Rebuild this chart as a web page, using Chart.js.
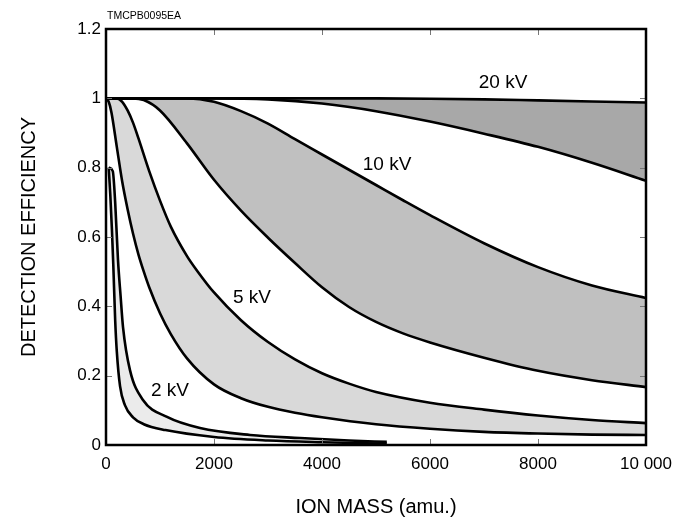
<!DOCTYPE html>
<html>
<head>
<meta charset="utf-8">
<script src="https://cdn.jsdelivr.net/npm/chart.js@4.4.1/dist/chart.umd.min.js"></script>
<style>
  body { margin: 0; background: #fff; }
  #wrap { width: 691px; height: 525px; position: relative; }
</style>
</head>
<body>
<div id="wrap"><canvas id="effChart"></canvas></div>
<script>
// ion mass (amu) / detection efficiency pairs
var kv2Low = [[50,0.8],[80,0.72],[110,0.62],[135,0.52],[170,0.36],[200,0.27],[260,0.17],[350,0.115],[500,0.08],[700,0.06],[1100,0.043],[2000,0.023],[3000,0.013],[4000,0.008],[5200,0.004]];
var kv2High = [[50,0.8],[125,0.79],[170,0.7],[222,0.534],[270,0.43],[315,0.34],[444,0.216],[685,0.13],[1130,0.081],[1741,0.049],[2667,0.029],[3593,0.02],[4500,0.013],[5200,0.009]];
var kv5Low = [[0,1],[50,0.99],[100,0.96],[200,0.86],[300,0.76],[400,0.68],[500,0.61],[600,0.55],[700,0.5],[800,0.455],[1000,0.38],[1200,0.32],[1500,0.25],[2000,0.175],[2500,0.135],[3000,0.11],[3500,0.093],[4000,0.08],[5000,0.06],[6000,0.047],[7000,0.038],[8000,0.033],[9000,0.03],[10000,0.029]];
var kv5High = [[0,1],[200,1],[300,0.99],[400,0.965],[500,0.93],[600,0.885],[800,0.79],[1000,0.705],[1200,0.63],[1500,0.545],[1700,0.5],[2000,0.44],[2500,0.36],[3000,0.297],[3500,0.247],[4000,0.207],[4500,0.177],[5000,0.153],[6000,0.122],[7000,0.102],[8000,0.085],[9000,0.072],[10000,0.063]];
var kv10Low = [[0,1],[500,1],[700,0.995],[1000,0.965],[1500,0.87],[2000,0.765],[2500,0.676],[3000,0.598],[3500,0.525],[4000,0.455],[4500,0.398],[5000,0.355],[5500,0.322],[6000,0.296],[7000,0.252],[8000,0.214],[9000,0.187],[10000,0.167]];
var kv10High = [[0,1],[1500,1],[2000,0.99],[2500,0.963],[3000,0.927],[3500,0.882],[4000,0.838],[4500,0.794],[5000,0.75],[5500,0.706],[6000,0.663],[7000,0.582],[8000,0.513],[9000,0.46],[10000,0.424]];
var kv20Low = [[0,1],[2000,1],[3000,0.997],[4000,0.985],[5000,0.963],[6000,0.933],[7000,0.898],[8000,0.86],[9000,0.814],[10000,0.762]];
var kv20High = [[0,1],[5000,1],[6000,0.999],[7000,0.997],[8000,0.994],[9000,0.991],[10000,0.988]];

var bandNames = ["2 kV", "5 kV", "10 kV", "20 kV"];
var labelAnchors = [[1185,0.156],[2704,0.424],[5204,0.808],[7352,1.044]];
var xTicks = [0, 2000, 4000, 6000, 8000, 10000];
var yTicks = [0, 0.2, 0.4, 0.6, 0.8, 1, 1.2];

var FONT = "'Liberation Sans', Arial, Helvetica, sans-serif";

function pts(arr) {
    return arr.map(function (p) { return { x: p[0], y: p[1] }; });
}

function curve(arr, fillTo, color) {
    return {
        data: pts(arr),
        borderColor: '#000',
        borderWidth: 2.6,
        pointRadius: 0,
        cubicInterpolationMode: 'monotone',
        backgroundColor: color || 'transparent',
        fill: fillTo === undefined ? false : fillTo
    };
}

var frameAndText = {
    id: 'frameAndText',
    afterDraw: function (chart) {
        var ctx = chart.ctx, a = chart.chartArea;
        var sx = chart.scales.x, sy = chart.scales.y;
        ctx.save();
        // inward ticks on all four sides
        ctx.strokeStyle = '#777';
        ctx.lineWidth = 1;
        ctx.beginPath();
        xTicks.slice(1, -1).forEach(function (v) {
            var px = Math.round(sx.getPixelForValue(v)) + 0.5;
            ctx.moveTo(px, a.bottom); ctx.lineTo(px, a.bottom - 6);
            ctx.moveTo(px, a.top); ctx.lineTo(px, a.top + 6);
        });
        yTicks.slice(1, -1).forEach(function (v) {
            var py = Math.round(sy.getPixelForValue(v)) + 0.5;
            ctx.moveTo(a.left, py); ctx.lineTo(a.left + 6, py);
            ctx.moveTo(a.right, py); ctx.lineTo(a.right - 6, py);
        });
        ctx.stroke();
        // frame
        ctx.strokeStyle = '#000';
        ctx.lineWidth = 2.5;
        ctx.strokeRect(a.left, a.top, a.right - a.left, a.bottom - a.top);
        // band labels
        ctx.fillStyle = '#000';
        ctx.font = '19px ' + FONT;
        ctx.textAlign = 'center';
        ctx.textBaseline = 'middle';
        bandNames.forEach(function (name, i) {
            ctx.fillText(name, sx.getPixelForValue(labelAnchors[i][0]), sy.getPixelForValue(labelAnchors[i][1]));
        });
        // figure code
        ctx.font = '10.5px ' + FONT;
        ctx.textAlign = 'left';
        ctx.textBaseline = 'alphabetic';
        ctx.fillText('TMCPB0095EA', a.left + 1, 19);
        ctx.restore();
    }
};

var ctx = document.getElementById('effChart').getContext('2d');
var effChart = new Chart(ctx, {
    type: 'line',
    data: {
        datasets: [
            curve(kv2Low),
            curve(kv2High, 0, '#ebebeb'),
            curve(kv5Low),
            curve(kv5High, 2, '#d9d9d9'),
            curve(kv10Low),
            curve(kv10High, 4, '#c0c0c0'),
            curve(kv20Low),
            curve(kv20High, 6, '#a8a8a8')
        ]
    },
    options: {
        responsive: true,
        maintainAspectRatio: false,
        animation: false,
        layout: { padding: { top: 29, right: 45, left: 0, bottom: 0 } },
        plugins: {
            legend: { display: false },
            tooltip: { enabled: false },
            filler: { drawTime: 'beforeDatasetsDraw' }
        },
        scales: {
            x: {
                type: 'linear',
                min: 0,
                max: 10000,
                afterFit: function (s) { s.height = 80; },
                afterBuildTicks: function (s) { s.ticks = xTicks.map(function (v) { return { value: v }; }); },
                grid: { display: false, drawTicks: false },
                border: { display: false },
                ticks: {
                    padding: 9,
                    color: '#000',
                    font: { family: FONT, size: 17 },
                    maxRotation: 0,
                    callback: function (v) { return v === 10000 ? '10 000' : String(v); }
                },
                title: {
                    display: true,
                    text: 'ION MASS (amu.)',
                    color: '#000',
                    font: { family: FONT, size: 20 },
                    padding: { top: 0, bottom: 6 }
                }
            },
            y: {
                min: 0,
                max: 1.2,
                afterFit: function (s) { s.width = 106; },
                afterBuildTicks: function (s) { s.ticks = yTicks.map(function (v) { return { value: v }; }); },
                grid: { display: false, drawTicks: false },
                border: { display: false },
                ticks: {
                    padding: 5,
                    color: '#000',
                    font: { family: FONT, size: 17 },
                    callback: function (v) { return String(Math.round(v * 10) / 10); }
                },
                title: {
                    display: true,
                    text: 'DETECTION EFFICIENCY',
                    color: '#000',
                    font: { family: FONT, size: 20 },
                    padding: { top: 17, bottom: 0 }
                }
            }
        }
    },
    plugins: [frameAndText]
});
</script>
</body>
</html>
